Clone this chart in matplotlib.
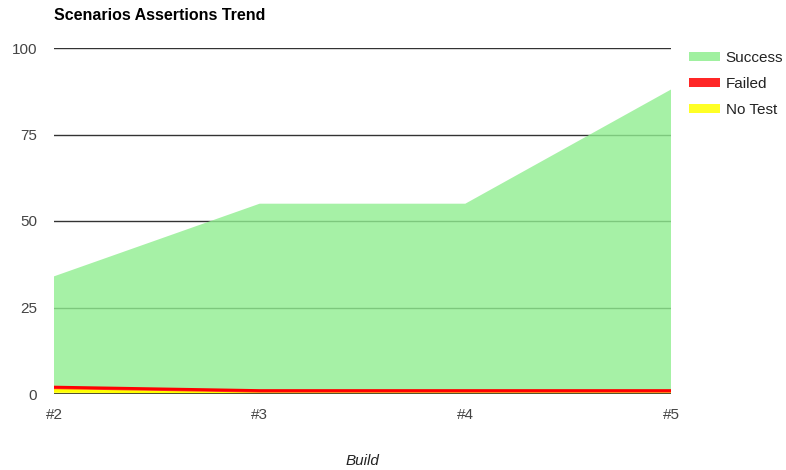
import matplotlib.pyplot as plt
from matplotlib.patches import Patch

plt.rcParams['font.family'] = ['Liberation Sans', 'DejaVu Sans']

builds = ['#2', '#3', '#4', '#5']
no_test = [1, 0, 0, 0]
failed = [1, 1, 1, 1]
success = [32, 54, 54, 87]
labels = ['Success', 'Failed', 'No Test']
colors = ['#90ee90', '#ff0000', '#ffff00']

fig = plt.figure(figsize=(7.86, 4.70), dpi=100)
ax = fig.add_axes([54/786, 1-394/470, (671-54)/786, (394-48)/470])

x = list(range(len(builds)))
# stacked: no test at the bottom, then failed, then success
ax.stackplot(x, no_test, failed, success,
             colors=[colors[2], colors[1], colors[0]], alpha=0.8, zorder=2, lw=0)
top_f = [a + b for a, b in zip(no_test, failed)]
ax.plot(x, no_test, color=colors[2], lw=2, zorder=3)
ax.plot(x, top_f, color=colors[1], lw=2, zorder=3)

ax.set_xlim(0, 3)
ax.set_ylim(0, 100)
ax.set_yticks([0, 25, 50, 75, 100])
ax.set_xticks(x)
ax.set_xticklabels(builds)
ax.grid(axis='y', color='#333333', lw=1, zorder=1)
ax.axhline(0, color='#333333', lw=1.2, zorder=4)
for s in ax.spines.values():
    s.set_visible(False)
ax.tick_params(length=0, labelsize=11, colors='#444444')
ax.tick_params(axis='y', pad=12)
ax.tick_params(axis='x', pad=10)
ax.set_axisbelow(True)

fig.text(54/786, 1-15/470, 'Scenarios Assertions Trend', fontsize=11.5,
         fontweight='bold', va='center', ha='left', color='black')
fig.text(362/786, 1-461/470, 'Build', fontsize=11, style='italic',
         ha='center', va='center', color='#222222')

handles = [Patch(facecolor=c, edgecolor='none', alpha=0.85) for c in colors]
leg = fig.legend(handles, labels, loc='upper left', bbox_to_anchor=(683/786, 1-45/470),
                 frameon=False, fontsize=11, handlelength=2.0, handleheight=0.5,
                 labelspacing=0.78, handletextpad=0.4, borderaxespad=0)
for t in leg.get_texts():
    t.set_color('#222222')

fig.savefig('out.png', dpi=100)
